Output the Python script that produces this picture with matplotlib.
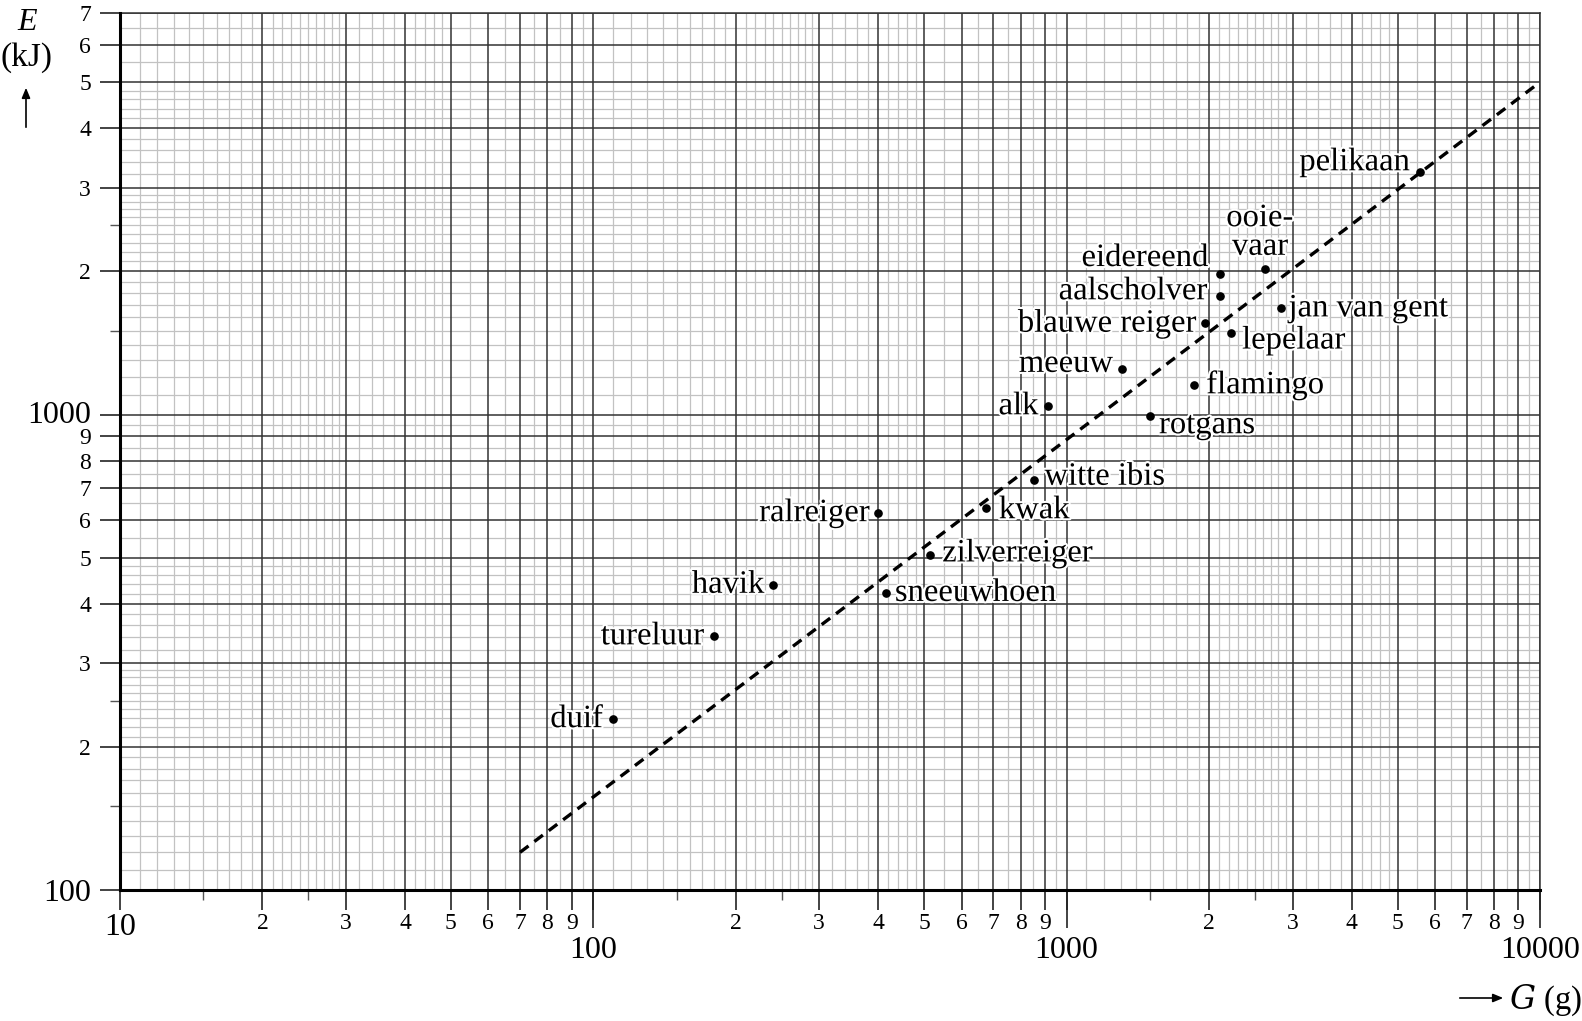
import numpy as np
import matplotlib
matplotlib.use('Agg')
import matplotlib.pyplot as plt
import matplotlib.patheffects as pe
import matplotlib.transforms as mtrans

plt.rcParams['font.family'] = ['Liberation Serif', 'DejaVu Serif']

# bird data: body mass G (g) and energy E (kJ)
birds = ['duif', 'tureluur', 'havik', 'ralreiger', 'sneeuwhoen', 'zilverreiger',
         'kwak', 'witte ibis', 'alk', 'rotgans', 'meeuw', 'flamingo',
         'blauwe reiger', 'lepelaar', 'aalscholver', 'eidereend', 'ooie-\nvaar',
         'jan van gent', 'pelikaan']
mass = [110, 180, 240, 400, 415, 515, 675, 855, 915, 1500, 1310, 1860,
        1960, 2225, 2110, 2110, 2630, 2830, 5570]
energy = [229, 342, 439, 621, 422, 506, 636, 730, 1042, 993, 1249, 1155,
          1556, 1482, 1775, 1977, 2026, 1674, 3236]

# dashed trend line end points
line_G = [70, 10000]
line_E = [120, 5000]

# axis ticks
x_major = [10, 20, 30, 40, 50, 60, 70, 80, 90,
           100, 200, 300, 400, 500, 600, 700, 800, 900,
           1000, 2000, 3000, 4000, 5000, 6000, 7000, 8000, 9000, 10000]
x_labels = ['10', '2', '3', '4', '5', '6', '7', '8', '9',
            '', '2', '3', '4', '5', '6', '7', '8', '9',
            '', '2', '3', '4', '5', '6', '7', '8', '9', '']
x_decades = [100, 1000, 10000]
x_decade_labels = ['100', '1000', '10000']
y_major = [100, 200, 300, 400, 500, 600, 700, 800, 900,
           1000, 2000, 3000, 4000, 5000, 6000, 7000]
y_labels = ['100', '2', '3', '4', '5', '6', '7', '8', '9',
            '1000', '2', '3', '4', '5', '6', '7']

# label placement (pixel offsets, alignment)
label_pos = {
    'duif': (-10, 0, 'right'), 'tureluur': (-10, 0, 'right'),
    'havik': (-9, 0, 'right'), 'ralreiger': (-9, 0, 'right'),
    'sneeuwhoen': (9, 0, 'left'), 'zilverreiger': (12, 2, 'left'),
    'kwak': (13, -2, 'left'), 'witte ibis': (10, 3, 'left'),
    'alk': (-10, 0, 'right'), 'rotgans': (9, -9, 'left'),
    'meeuw': (-9, 5, 'right'), 'flamingo': (12, 0, 'left'),
    'blauwe reiger': (-9, 0, 'right'), 'lepelaar': (11, -7, 'left'),
    'aalscholver': (-13, 5, 'right'), 'eidereend': (-12, 16, 'right'),
    'jan van gent': (8, 0, 'left'), 'pelikaan': (-10, 10, 'right'),
}
LABEL_SIZE = 23.5

W, H = 1582, 1021
fig = plt.figure(figsize=(W / 100, H / 100), dpi=100)
ax = fig.add_axes([120 / W, 1 - 890 / H, 1420 / W, (890 - 12.7) / H])
ax.set_xscale('log')
ax.set_yscale('log')
ax.set_xlim(10, 10000)
ax.set_ylim(100, 7000)

# graph paper grid
steps = [1.1, 1.2, 1.3, 1.4, 1.5, 1.6, 1.7, 1.8, 1.9,
         2.1, 2.2, 2.3, 2.4, 2.5, 2.6, 2.7, 2.8, 2.9,
         3.2, 3.4, 3.6, 3.8, 4.2, 4.4, 4.6, 4.8,
         5.5, 6.5, 7.5, 8.5, 9.5]
for d in [10, 100, 1000]:
    for s in steps:
        ax.axvline(s * d, color='#c2c2c2', lw=0.9, zorder=1)
for d in [100, 1000]:
    for s in steps:
        if s * d < 7000:
            ax.axhline(s * d, color='#c2c2c2', lw=0.9, zorder=1)
for v in x_major:
    ax.axvline(v, color='#333333', lw=1.1, zorder=2)
for v in y_major:
    ax.axhline(v, color='#333333', lw=1.1, zorder=2)

ax.plot(line_G, line_E, color='black', lw=2.4, ls=(0, (3.2, 2.2)), zorder=3)
ax.plot(mass, energy, 'o', color='black', ms=5.2, zorder=4)

halo = [pe.withStroke(linewidth=3, foreground='white')]
for name, g, e in zip(birds, mass, energy):
    if name in label_pos:
        dx, dy, ha = label_pos[name]
        ax.annotate(name, (g, e), xytext=(dx * 0.72, dy * 0.72), textcoords='offset points',
                    ha=ha, va='center', fontsize=LABEL_SIZE, zorder=5, path_effects=halo)
    else:
        ax.annotate(name, (g, e), xytext=(-4, 5), textcoords='offset points',
                    ha='center', va='bottom', fontsize=LABEL_SIZE, linespacing=0.92,
                    zorder=5, path_effects=halo)

# spines
for s in ['left', 'bottom']:
    ax.spines[s].set_linewidth(2.2)
    ax.spines[s].set_zorder(6)
for s in ['top', 'right']:
    ax.spines[s].set_linewidth(1.1)
    ax.spines[s].set_color('#333333')

# ticks
ax.set_xticks(x_major, labels=x_labels)
ax.set_yticks(y_major, labels=y_labels)
ax.set_xticks([15, 25, 150, 250, 1500, 2500], minor=True, labels=[])
ax.set_yticks([150, 250, 1500, 2500], minor=True, labels=[])
ax.tick_params(which='major', length=14.4, width=1.2, color='#222222', labelsize=17)
ax.tick_params(axis='x', which='major', pad=2)
ax.tick_params(axis='y', which='major', pad=6.5)
ax.tick_params(which='minor', length=7.2, width=1.0, color='#555555')
for lab in ax.get_xticklabels():
    if lab.get_text() == '10':
        lab.set_fontsize(23)
for lab in ax.get_yticklabels():
    if lab.get_text() in ('100', '1000'):
        lab.set_fontsize(23)
    if lab.get_text() == '1000':
        lab.set_transform(lab.get_transform() +
                          mtrans.ScaledTranslation(0, 3 / 100, fig.dpi_scale_trans))

sec = ax.secondary_xaxis('bottom')
sec.set_xticks(x_decades, labels=x_decade_labels)
sec.tick_params(length=27.4, width=1.2, color='#222222', labelsize=23, pad=6)
sec.spines['bottom'].set_visible(False)
sec.xaxis.set_minor_locator(matplotlib.ticker.NullLocator())

# axis titles
fig.text(27 / W, 1 - 23 / H, 'E', style='italic', fontsize=23, ha='center', va='center')
fig.text(27 / W, 1 - 58 / H, '(kJ)', fontsize=24, ha='center', va='center')
fig.add_artist(matplotlib.patches.FancyArrowPatch(
    (26 / W, 1 - 130 / H), (26 / W, 1 - 85 / H), transform=fig.transFigure,
    arrowstyle='-|>,head_length=6,head_width=2.5', color='black', lw=1.2))
fig.add_artist(matplotlib.patches.FancyArrowPatch(
    (1457 / W, 1 - 998 / H), (1506 / W, 1 - 998 / H), transform=fig.transFigure,
    arrowstyle='-|>,head_length=6,head_width=2.5', color='black', lw=1.2))
fig.text(1509 / W, 1 - 1000 / H, r'$\mathit{G}$ (g)', fontsize=23.5, ha='left', va='center',
         math_fontfamily='dejavuserif')

fig.savefig('out.png', dpi=100)
